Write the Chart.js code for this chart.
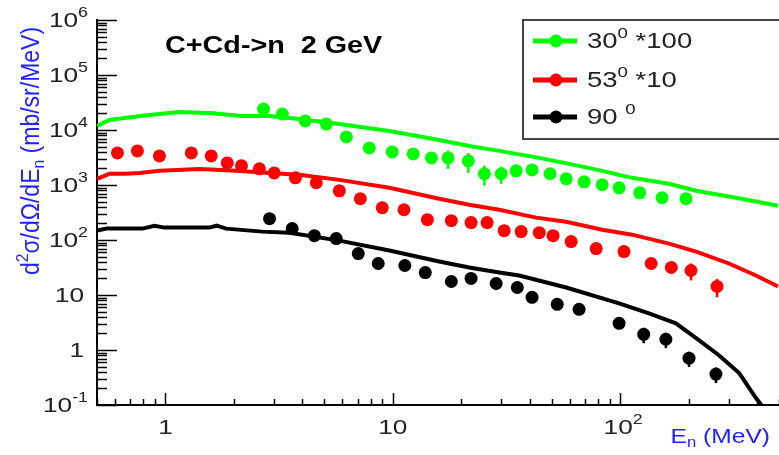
<!DOCTYPE html>
<html><head><meta charset="utf-8">
<script src="https://cdn.jsdelivr.net/npm/chart.js@4.4.1/dist/chart.umd.min.js"></script>
<style>html,body{margin:0;padding:0;background:#fff;overflow:hidden}canvas{display:block}</style>
</head><body>
<canvas id="c" width="779" height="455"></canvas>
<script>
// ---- measured points (E in MeV, d2sigma values) ----
const green30E = [2.70,3.27,4.12,5.10,6.25,7.88,9.95,12.3,14.8,17.5,21.5,25.3,30.0,34.9,41.0,49.2,57.9,69.5,83.4,99.0,122,153,195];
const green30V = [24000,19500,14600,12800,7470,4720,3990,3670,3110,3110,2740,1600,1600,1810,1880,1600,1295,1140,1010,890,722,587,562];
const green30Err = [0,0,0,0,0,0,0,0,0,1150,1080,630,550,0,0,0,0,0,0,0,0,0,0];

const red53E = [0.615,0.753,0.941,1.30,1.59,1.87,2.16,2.59,3.01,3.73,4.61,5.82,7.20,8.99,11.2,14.2,18.1,22.1,26.0,30.9,36.7,44.1,50.7,60.9,78.5,104,137,168,205,267];
const red53V = [3830,4170,3380,3830,3380,2520,2230,1970,1660,1350,1100,785,562,386,355,234,225,207,207,148,142,136,120,93.6,69.9,61.7,37.4,31.6,27.9,14.3];
const red53Err = [0,0,0,0,0,0,0,0,0,0,0,0,0,0,0,0,0,0,0,0,0,0,0,0,0,0,0,0,9.5,5.2];

const black90E = [2.87,3.61,4.52,5.64,7.05,8.63,11.3,13.9,18.1,22.1,28.5,35.3,41.0,52.9,66.0,99.0,127,159,201,264];
const black90V = [244,161,120,106,56.7,37.4,34.4,25.6,17.6,20.0,16.2,13.7,9.06,6.77,5.49,3.06,1.93,1.57,0.71,0.365];
const black90Err = [0,0,0,0,0,0,0,0,0,0,0,0,0,0,0,0,0.6,0.49,0.22,0.115];

// ---- model curves ----
const lineGreenE = [0.5,0.567,0.66,0.851,1.15,1.56,2.18,2.87,3.88,5.82,9.66,16.0,21.7,29.4,44.1,59.7,83.4,113,164,216,324,495];
const lineGreenV = [11800,15200,16500,18700,21200,20300,17900,17900,15800,12800,9600,6590,5130,4170,3110,2420,1810,1350,1050,785,587,420];

const lineRedE = [0.5,0.567,0.66,0.769,0.941,1.41,2.05,2.87,3.88,5.82,9.66,16.0,21.7,29.4,42.7,57.9,83.4,113,164,216,301,396,495];
const lineRedV = [1295,1600,1600,1660,1810,1960,1810,1660,1530,1240,889,562,437,355,255,215,154,125,86,61.7,37.4,22.6,14.3];

const lineBlackE = [0.5,0.551,0.792,0.895,0.99,1.56,1.68,1.85,2.67,3.51,5.82,9.66,16.0,21.7,29.4,36.0,57.9,99,134,176,222,272,334,396,418];
const lineBlackV = [148,161,161,182,168,168,182,161,142,136,97.5,64.3,40.6,31.6,25.6,22.6,13.7,7.05,4.64,3.06,1.51,0.805,0.380,0.134,0.1];

// ---- axis ticks / labels ----
const yTickVals = [0.1,1,10,100,1e3,1e4,1e5,1e6];
const yTickLabels = [['10','-1'],['1',''],['10',''],['10','2'],['10','3'],['10','4'],['10','5'],['10','6']];
const xTickVals = [1,10,100];
const xTickLabels = [['1',''],['10',''],['10','2']];
const seriesColors = ['#00ff00','#ff0000','#000000'];
const legendTexts = [
  [{t:'30'},{t:'0',sup:1},{t:' *100'}],
  [{t:'53'},{t:'0',sup:1},{t:' *10'}],
  [{t:'90 '},{t:'0',sup:1}]
];
const titleText = 'C+Cd->n  2 GeV';

const FONT = '"Liberation Sans", Arial, Helvetica, sans-serif';
function richWidth(ctx, parts, size, bold){
  let w=0;
  for(const p of parts){
    const s=(p.sup||p.sub)? size*0.68 : size;
    ctx.font=(bold?'bold ':'')+s+'px '+FONT;
    w+=ctx.measureText(p.t).width;
  }
  return w;
}
function drawRich(ctx, parts, x, y, o){
  ctx.save();
  ctx.translate(x,y);
  ctx.scale(o.sx||1,1);
  if(o.rot) ctx.rotate(o.rot);
  const W=richWidth(ctx,parts,o.size,o.bold);
  let cx=-W*(o.align||0);
  ctx.fillStyle=o.color; ctx.textBaseline='middle'; ctx.textAlign='left';
  for(const p of parts){
    const s=(p.sup||p.sub)? o.size*0.68 : o.size;
    ctx.font=(o.bold?'bold ':'')+s+'px '+FONT;
    const dy=p.sup? -o.size*0.36 : (p.sub? o.size*0.3 : 0);
    ctx.fillText(p.t,cx,dy);
    cx+=ctx.measureText(p.t).width;
  }
  ctx.restore();
}
function toXY(E,V){ return E.map((e,i)=>({x:e,y:V[i]})); }

const SX = 1.25;
const decor = {
  id:'decor',
  beforeDatasetsDraw(chart){
    const ctx=chart.ctx, xs=chart.scales.x, ys=chart.scales.y;
    const errSets=[[green30E,green30V,green30Err],[red53E,red53V,red53Err],[black90E,black90V,black90Err]];
    ctx.save(); ctx.lineWidth=2.5;
    errSets.forEach((s,k)=>{
      ctx.strokeStyle=seriesColors[k];
      s[2].forEach((err,i)=>{
        if(!err) return;
        const px=xs.getPixelForValue(s[0][i]);
        const y1=ys.getPixelForValue(s[1][i]-err), y2=ys.getPixelForValue(s[1][i]+err);
        ctx.beginPath(); ctx.moveTo(px,y1); ctx.lineTo(px,y2); ctx.stroke();
      });
    });
    ctx.restore();
  },
  afterDraw(chart){
    const ctx=chart.ctx, xs=chart.scales.x, ys=chart.scales.y, ca=chart.chartArea;
    ctx.save();
    ctx.strokeStyle='#000'; ctx.lineWidth=1.5;
    for(let d=-1; d<=6; d++){
      for(let k=1;k<=9;k++){
        const v=k*Math.pow(10,d);
        if(v>1e6*1.0001) break;
        const py=Math.round(ys.getPixelForValue(v))+0.5;
        const len=(k===1)?20:10;
        ctx.beginPath(); ctx.moveTo(ca.left,py); ctx.lineTo(ca.left+len,py); ctx.stroke();
      }
    }
    for(let d=-1; d<=2; d++){
      for(let k=1;k<=9;k++){
        const v=k*Math.pow(10,d);
        if(v<0.5-1e-9||v>500+1e-9) continue;
        const px=Math.round(xs.getPixelForValue(v))+0.5;
        const len=(k===1)?12:6;
        ctx.beginPath(); ctx.moveTo(px,ca.bottom); ctx.lineTo(px,ca.bottom-len); ctx.stroke();
      }
    }
    ctx.restore();
    yTickVals.forEach((v,i)=>{
      const py=ys.getPixelForValue(v);
      const lab=yTickLabels[i];
      const parts=[{t:lab[0]}]; if(lab[1]) parts.push({t:lab[1],sup:1});
      drawRich(ctx,parts,lab[1]?88:84,py+1,{size:21,color:'#222',align:1,sx:SX});
    });
    xTickVals.forEach((v,i)=>{
      const px=xs.getPixelForValue(v);
      const lab=xTickLabels[i];
      const parts=[{t:lab[0]}]; if(lab[1]) parts.push({t:lab[1],sup:1});
      drawRich(ctx,parts,px+(lab[1]?3:0),428,{size:21,color:'#222',align:0.5,sx:SX});
    });
    drawRich(ctx,[{t:'E'},{t:'n',sub:1},{t:' (MeV)'}],770,437,{size:21,color:'#2222ff',align:1,sx:1.17});
    drawRich(ctx,[{t:'d'},{t:'2',sup:1},{t:'σ/dΩ/dE'},{t:'n',sub:1},{t:' (mb/sr/MeV)'}],32,151,{size:23,color:'#2222ff',align:0.5,sx:1.1,rot:-Math.PI/2});
    drawRich(ctx,[{t:titleText}],165,47,{size:23,color:'#000',align:0,sx:SX,bold:1});
    ctx.save();
    ctx.fillStyle='#fff'; ctx.fillRect(523,20,260,119);
    ctx.strokeStyle='#444'; ctx.lineWidth=2;
    ctx.strokeRect(523,20,262,119);
    const ly=[41,80,117];
    for(let k=0;k<3;k++){
      ctx.strokeStyle=seriesColors[k]; ctx.fillStyle=seriesColors[k]; ctx.lineWidth=5;
      ctx.beginPath(); ctx.moveTo(533,ly[k]); ctx.lineTo(577,ly[k]); ctx.stroke();
      ctx.beginPath(); ctx.arc(556,ly[k],6.5,0,Math.PI*2); ctx.fill();
      drawRich(ctx,legendTexts[k],587,ly[k]+1,{size:22,color:'#222',align:0,sx:SX});
    }
    ctx.restore();
  }
};

const ptOpts = (c)=>({showLine:false,pointRadius:6.5,pointHoverRadius:6.5,pointBackgroundColor:c,pointBorderWidth:0,borderColor:c,backgroundColor:c,order:0});
const lnOpts = (c)=>({showLine:true,pointRadius:0,borderColor:c,borderWidth:4,tension:0,fill:false,order:1});

new Chart(document.getElementById('c'),{
  type:'scatter',
  data:{datasets:[
    Object.assign({label:'30 deg *100 data',data:toXY(green30E,green30V)},ptOpts(seriesColors[0])),
    Object.assign({label:'53 deg *10 data',data:toXY(red53E,red53V)},ptOpts(seriesColors[1])),
    Object.assign({label:'90 deg data',data:toXY(black90E,black90V)},ptOpts(seriesColors[2])),
    Object.assign({label:'30 model',data:toXY(lineGreenE,lineGreenV)},lnOpts(seriesColors[0])),
    Object.assign({label:'53 model',data:toXY(lineRedE,lineRedV)},lnOpts(seriesColors[1])),
    Object.assign({label:'90 model',data:toXY(lineBlackE,lineBlackV)},lnOpts(seriesColors[2]))
  ]},
  options:{
    responsive:false, animation:false, devicePixelRatio:1,
    layout:{autoPadding:false,padding:{top:20,right:0,left:0,bottom:0}},
    plugins:{legend:{display:false},tooltip:{enabled:false},title:{display:false}},
    scales:{
      x:{type:'logarithmic',min:0.5,max:500,grid:{display:false},border:{display:true,color:'#000',width:2},
         ticks:{display:false},afterFit:(s)=>{s.height=50;s.paddingLeft=0;s.paddingRight=0;}},
      y:{type:'logarithmic',min:0.1,max:1e6,grid:{display:false},border:{display:true,color:'#000',width:2},
         ticks:{display:false},afterFit:(s)=>{s.width=97;s.paddingTop=0;s.paddingBottom=0;}}
    }
  },
  plugins:[decor]
});
</script>
</body></html>
